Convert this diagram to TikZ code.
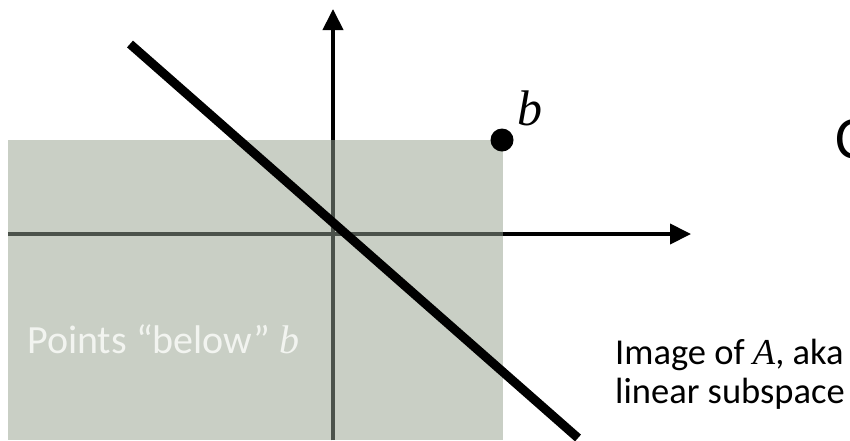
\documentclass[tikz,border=0pt]{standalone}
\usepackage{fontspec}
\setmainfont{Carlito}
\newfontfamily\serifit{Liberation Serif}
\usetikzlibrary{arrows.meta}
\definecolor{regiongray}{RGB}{201,207,197}
\definecolor{axisin}{RGB}{75,82,75}
\definecolor{ptxt}{RGB}{242,244,240}
\tikzset{
  axis/.style={line width=4pt,-{Triangle[width=20pt,length=21pt]}},
  axisinside/.style={line width=4pt,draw=axisin},
  subspace/.style={line width=9pt,line cap=butt},
  region/.style={fill=regiongray},
  lbl/.style={inner sep=0pt,anchor=base west}
}
\begin{document}
\begin{tikzpicture}[x=1pt,y=-1pt]
\useasboundingbox (0,0) rectangle (850,440);
\clip (0,0) rectangle (850,440);
\coordinate (vb) at (333,440);
\coordinate (vt) at (333,9);
\coordinate (hl) at (8,234);
\coordinate (hr) at (691,234);
\coordinate (vr) at (333,140);
\coordinate (hm) at (503,234);
\draw[axis] (vb) -- (vt);
\draw[axis] (hl) -- (hr);
\path[region] (8,140) rectangle (503,440);
\draw[axisinside] (vb) -- (vr);
\draw[axisinside] (hl) -- (hm);
\coordinate (la) at (130,44);
\coordinate (lb) at (578,438);
\draw[subspace] (la) -- (lb);
\node[circle,fill=black,minimum size=23pt,inner sep=0pt] (bdot) at (502,140) {};
\node[lbl] (blabel) at (517,125) {\fontsize{50}{54}\selectfont\serifit\itshape b};
\node[lbl] (cpart) at (835,158) {\fontsize{60}{64}\selectfont C};
\node[lbl] (img1) at (615,364) {\fontsize{36.5}{40}\selectfont Image of {\serifit\itshape A}, aka};
\node[lbl] (img2) at (615,403) {\fontsize{36.5}{40}\selectfont linear subspace};
\node[lbl,text=ptxt] (pts) at (27,353) {\fontsize{40}{44}\selectfont Points “below” {\serifit\itshape b}};
\end{tikzpicture}
\end{document}
